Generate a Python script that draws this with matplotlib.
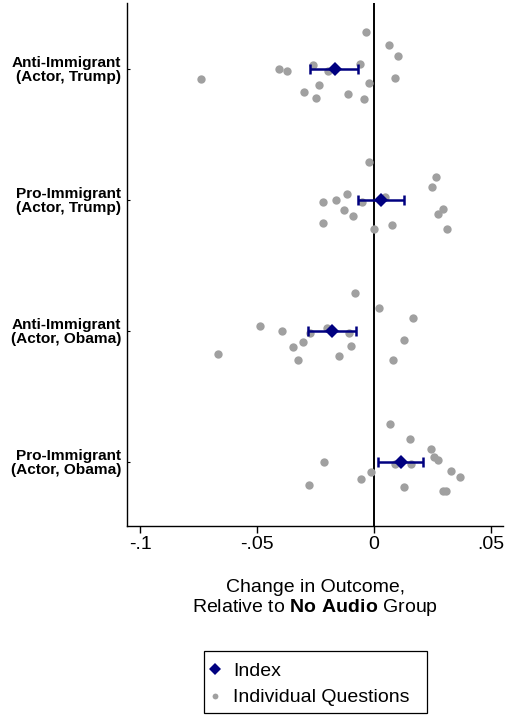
import matplotlib
matplotlib.use("Agg")
import matplotlib.pyplot as plt
from matplotlib.lines import Line2D
from matplotlib.patches import Rectangle
import numpy as np

plt.rcParams['font.family'] = ['Liberation Sans', 'DejaVu Sans']
plt.rcParams['mathtext.fontset'] = 'custom'
plt.rcParams['mathtext.rm'] = 'Liberation Sans'
plt.rcParams['mathtext.bf'] = 'Liberation Sans:bold'

# ---- data ----
categories = ["Anti-Immigrant\n(Actor, Trump)", "Pro-Immigrant\n(Actor, Trump)",
              "Anti-Immigrant\n(Actor, Obama)", "Pro-Immigrant\n(Actor, Obama)"]
cat_pos = [4, 3, 2, 1]

index_est = [-0.0167, 0.0030, -0.0180, 0.0114]
index_lo = [-0.0274, -0.0068, -0.0281, 0.0018]
index_hi = [-0.0067, 0.0127, -0.0077, 0.0211]

q_anti_trump = [-0.0036, 0.0064, 0.0101, -0.0262, -0.0060, -0.0405, -0.0373, -0.0195,
                -0.0740, 0.0088, -0.0021, -0.0236, -0.0299, -0.0249, -0.0112, -0.0043]
off_anti_trump = [0.282, 0.176, 0.099, 0.028, 0.038, 0.0, -0.020, -0.018,
                  -0.081, -0.069, -0.111, -0.124, -0.178, -0.224, -0.191, -0.229]

q_pro_trump = [-0.0020, 0.0266, 0.0246, -0.0117, -0.0164, -0.0219, -0.0053, 0.0047,
               -0.0127, -0.0090, 0.0296, 0.0272, -0.0219, 0.0076, 0.0000, 0.0312]
off_pro_trump = [0.284, 0.174, 0.098, 0.040, -0.002, -0.021, -0.019, 0.021,
                 -0.082, -0.126, -0.070, -0.113, -0.177, -0.195, -0.225, -0.227]

q_anti_obama = [-0.0083, 0.0020, 0.0168, -0.0486, -0.0392, -0.0202, -0.0276, -0.0108,
                -0.0302, 0.0128, -0.0346, -0.0097, -0.0667, -0.0150, -0.0325, 0.0081]
off_anti_obama = [0.285, 0.176, 0.099, 0.036, 0.0, 0.023, -0.020, -0.020,
                  -0.084, -0.069, -0.127, -0.115, -0.178, -0.195, -0.224, -0.226]

q_pro_obama = [0.0070, 0.0152, 0.0244, -0.0214, 0.0258, 0.0272, 0.0091, 0.0157,
               -0.0014, 0.0328, 0.0366, -0.0054, -0.0278, 0.0127, 0.0296, 0.0308]
off_pro_obama = [0.285, 0.173, 0.097, 0.0, 0.034, 0.015, -0.018, -0.020,
                 -0.081, -0.069, -0.117, -0.130, -0.180, -0.195, -0.226, -0.224]

questions = [q_anti_trump, q_pro_trump, q_anti_obama, q_pro_obama]
offsets = [off_anti_trump, off_pro_trump, off_anti_obama, off_pro_obama]

xticks = [-0.1, -0.05, 0, 0.05]
xticklabels = ["-.1", "-.05", "0", ".05"]

NAVY = "#000080"
GREY = "#a0a0a0"

fig = plt.figure(figsize=(5.10, 7.15), dpi=100)
ax = fig.add_axes([127/510, 1-526/715, (503-127)/510, (526-3)/715])

for pos, q, off in zip(cat_pos, questions, offsets):
    ax.scatter(q, np.array(off) + pos, s=36, color=GREY, linewidths=0, zorder=2)

ax.axvline(0, color="black", lw=1.4, zorder=1)

est = np.array(index_est)
xerr = np.vstack([est - np.array(index_lo), np.array(index_hi) - est])
ax.errorbar(est, cat_pos, xerr=xerr, fmt='none', ecolor=NAVY, elinewidth=1.8,
            capsize=3.3, capthick=1.8, zorder=3)
ax.plot(est, cat_pos, linestyle='none', marker='D', markersize=7.2, color=NAVY,
        markeredgewidth=0, zorder=4)

ax.set_xlim(-0.1056, 0.0551)
ax.set_ylim(0.509, 4.50)
ax.set_xticks(xticks)
ax.set_xticklabels(xticklabels, fontsize=14)
ax.set_yticks(cat_pos)
ax.set_yticklabels(categories, fontsize=11.1, fontweight='bold', linespacing=1.0)
ax.tick_params(axis='x', direction='out', length=5, width=1, pad=2)
ax.tick_params(axis='y', direction='in', length=2, width=0.8, pad=4)
for s in ['top', 'right']:
    ax.spines[s].set_visible(False)
for s in ['left', 'bottom']:
    ax.spines[s].set_linewidth(1.0)

fig.text(315/510, 1-587/715, "Change in Outcome,", ha='center', va='center', fontsize=14)
fig.text(315/510, 1-608/715, r"Relative to $\mathbf{No\ Audio}$ Group", ha='center',
         va='center', fontsize=14)

handles = [Line2D([], [], linestyle='none', marker='D', markersize=6.3, color=NAVY,
                  markeredgewidth=0),
           Line2D([], [], linestyle='none', marker='o', markersize=4.2, color=GREY,
                  markeredgewidth=0)]
leg = fig.legend(handles, ["Index", "Individual Questions"], loc='center left',
                 bbox_to_anchor=(205.3/510, 1-684.5/715), fontsize=14, frameon=False,
                 handlelength=1.0, handletextpad=0.43, borderpad=0,
                 labelspacing=0.45, borderaxespad=0)
fig.patches.append(Rectangle((204/510, 1-713/715), 223/510, 62/715,
                             transform=fig.transFigure, fill=False,
                             edgecolor='black', linewidth=0.9))

fig.savefig("out.png", dpi=100)
